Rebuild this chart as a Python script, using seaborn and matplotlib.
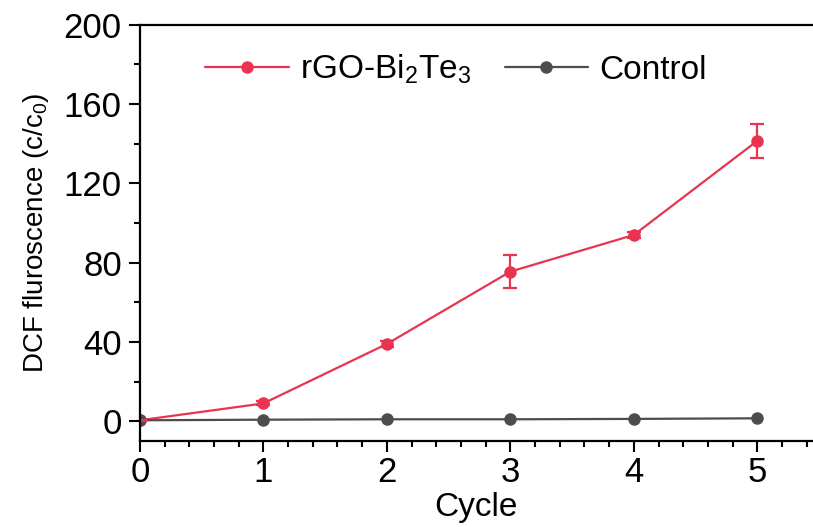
import matplotlib
matplotlib.use("Agg")
import matplotlib.pyplot as plt
import seaborn as sns
import pandas as pd
from matplotlib.ticker import MultipleLocator

cycles = [0, 1, 2, 3, 4, 5]
rgo_values = [0.5, 9, 39, 75.5, 94, 141.5]
rgo_errors = [0.3, 1.0, 1.5, 8.2, 1.5, 8.5]
control_values = [0.5, 0.8, 1.0, 1.0, 1.2, 1.5]
series_names = ["rGO-Bi$_2$Te$_3$", "Control"]

sns.set_theme(style="ticks")
plt.rcParams['font.family'] = ['Liberation Sans', 'DejaVu Sans']
plt.rcParams['mathtext.fontset'] = 'custom'
plt.rcParams['mathtext.rm'] = 'Liberation Sans'
plt.rcParams['mathtext.it'] = 'Liberation Sans'
plt.rcParams['text.color'] = 'black'
plt.rcParams['axes.labelcolor'] = 'black'
plt.rcParams['xtick.color'] = 'black'
plt.rcParams['ytick.color'] = 'black'

df = pd.DataFrame({
    "Cycle": cycles * 2,
    "Value": rgo_values + control_values,
    "Series": [series_names[0]] * len(cycles) + [series_names[1]] * len(cycles),
})

red = "#E8344E"
gray = "#4D4D4D"

fig = plt.figure(figsize=(8.13, 5.27), dpi=100)
ax = fig.add_axes([0.172, 0.163, 0.828, 0.79])

sns.lineplot(data=df, x="Cycle", y="Value", hue="Series",
             palette={series_names[0]: red, series_names[1]: gray},
             marker="o", markersize=9, markeredgewidth=0, linewidth=1.6, ax=ax)
ax.errorbar(cycles, rgo_values, yerr=rgo_errors, fmt="none", ecolor=red,
            elinewidth=1.6, capsize=5, capthick=1.6)

ax.set_xlim(0, 5.45)
ax.set_ylim(-10, 200)
ax.xaxis.set_major_locator(MultipleLocator(1))
ax.xaxis.set_minor_locator(MultipleLocator(0.2))
ax.yaxis.set_major_locator(MultipleLocator(40))
ax.yaxis.set_minor_locator(MultipleLocator(20))
ax.tick_params(axis="both", which="major", length=8, width=1.5, labelsize=25,
               direction="out", color="black", labelcolor="black", pad=3)
ax.tick_params(axis="y", which="major", pad=5)
ax.tick_params(axis="both", which="minor", length=4.5, width=1.5, direction="out", color="black")
for side in ["left", "bottom", "top"]:
    ax.spines[side].set_linewidth(1.6)
    ax.spines[side].set_color("black")
ax.spines["right"].set_visible(False)

ax.set_xlabel("Cycle", fontsize=24, labelpad=2)
ax.set_ylabel("DCF fluroscence (c/c$_0$)", fontsize=20, labelpad=9)

leg = ax.legend(loc="upper center", bbox_to_anchor=(0.47, 1.005), ncol=2, frameon=False,
                fontsize=24, handlelength=2.5, columnspacing=1.0, handletextpad=0.35)

fig.savefig("out.png", dpi=100)
